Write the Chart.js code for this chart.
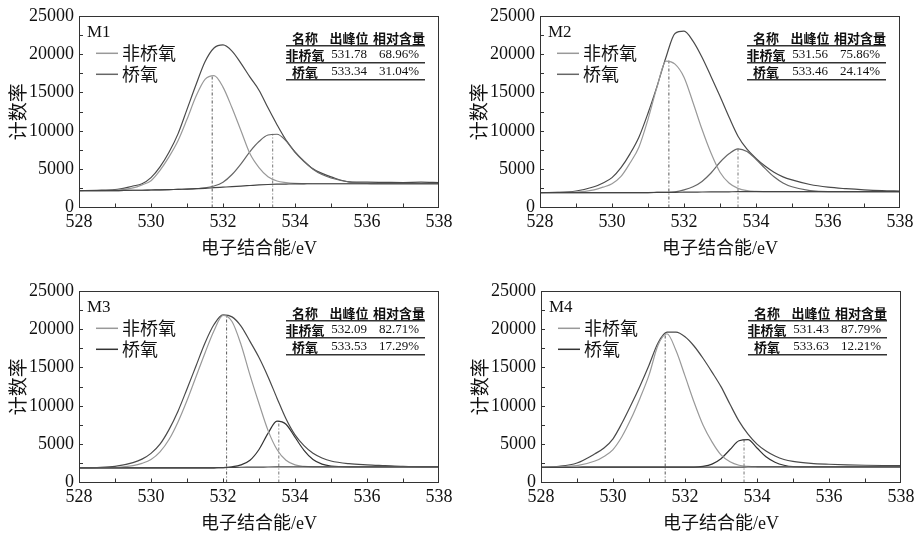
<!DOCTYPE html>
<html><head><meta charset="utf-8">
<script src="https://cdn.jsdelivr.net/npm/chart.js@4.4.1/dist/chart.umd.min.js"></script>
<style>
html,body{margin:0;padding:0;background:#fff;width:916px;height:538px;overflow:hidden;position:relative}
canvas{position:absolute}
</style></head><body>
<canvas id="c1" width="458" height="263" style="left:0;top:0"></canvas>
<canvas id="c2" width="458" height="263" style="left:461px;top:0"></canvas>
<canvas id="c3" width="458" height="263" style="left:0;top:275px"></canvas>
<canvas id="c4" width="458" height="263" style="left:462px;top:275px"></canvas>
<script>
// ---- data ----
const energy = [528, 528.5, 529, 529.5, 529.75, 530, 530.25, 530.5, 530.75, 531, 531.25, 531.5, 531.75, 532, 532.25, 532.5, 532.75, 533, 533.25, 533.5, 533.75, 534, 534.25, 534.5, 534.75, 535, 535.5, 536, 536.5, 537, 537.5, 538];

const m1Background = [2200,2200,2200,2250,2250,2280,2300,2330,2370,2400,2450,2500,2580,2650,2720,2800,2870,2940,3000,3040,3060,3080,3090,3100,3100,3100,3100,3100,3100,3100,3100,3100];
const m1NonBridging = [2200,2200,2250,2550,2950,3500,4850,6600,8700,11500,14500,16700,17200,15700,13000,10000,7000,5200,4000,3450,3250,3150,3120,3100,3100,3100,3100,3100,3100,3100,3100,3100];
const m1Bridging = [2200,2200,2200,2250,2250,2280,2300,2330,2370,2400,2460,2550,2800,3300,4300,5700,7300,8600,9450,9550,8700,7200,6000,5000,4300,3850,3350,3150,3100,3100,3100,3100];
const m1Envelope = [2200,2250,2320,2800,3100,3900,5300,7200,9600,12800,16000,19000,20800,21200,20400,18800,17000,15300,13000,10800,8800,7250,6050,5050,4450,4000,3350,3300,3280,3260,3300,3250];
const m1PeakEnergy = [531.70, 533.38];
const m1PeakHeight = [17300, 9600];
const m1PeakPos = ['531.78', '533.34'];
const m1Content = ['68.96%', '31.04%'];

const m2Background = [1950,1950,1950,1950,1950,1950,1950,1950,1950,1950,1960,1970,1980,2000,2010,2020,2030,2040,2050,2060,2060,2060,2060,2060,2060,2060,2060,2060,2060,2060,2060,2060];
const m2NonBridging = [1950,1960,2000,2300,2650,3100,4050,5800,7900,11500,15700,19100,18700,17000,13700,10200,7100,4600,3200,2500,2200,2100,2070,2060,2060,2060,2060,2060,2060,2060,2060,2060];
const m2Bridging = [1950,1950,1950,1950,1950,1950,1950,1950,1950,1950,1960,1980,2050,2300,2700,3400,4500,5900,7000,7650,7300,6300,5100,4000,3200,2700,2200,2060,2060,2060,2060,2060];
const m2Envelope = [1950,1980,2150,2700,3200,3900,5200,7000,9200,12300,15800,19600,22700,23000,21700,19600,17100,14500,11800,9300,7600,6400,5400,4600,4000,3600,3000,2650,2450,2300,2200,2150];
const m2PeakEnergy = [531.58, 533.50];
const m2PeakHeight = [19300, 7650];
const m2PeakPos = ['531.56', '533.46'];
const m2Content = ['75.86%', '24.14%'];

const m3Background = [1900,1900,1900,1900,1900,1900,1900,1900,1900,1900,1900,1900,1920,1950,1970,1990,2000,2010,2020,2030,2040,2050,2050,2050,2050,2050,2050,2050,2050,2050,2050,2050];
const m3NonBridging = [1900,1900,1950,2200,2500,3000,4000,5600,7900,10700,13800,16900,19800,21800,21000,18000,14000,10300,6800,4300,2900,2300,2100,2050,2050,2050,2050,2050,2050,2050,2050,2050];
const m3Bridging = [1900,1900,1900,1900,1900,1900,1900,1900,1900,1900,1900,1900,1920,1950,2050,2300,2900,4300,6400,8000,7600,5900,4200,3000,2400,2150,2050,2050,2050,2050,2050,2050];
const m3Envelope = [1900,1950,2100,2600,3050,3800,5000,6900,9300,12200,15200,18200,20600,21850,21600,20400,18400,16300,13800,11000,8300,6200,4800,3800,3200,2800,2450,2300,2200,2100,2050,2050];
const m3PeakEnergy = [532.10, 533.55];
const m3PeakHeight = [21900, 8050];
const m3PeakPos = ['532.09', '533.53'];
const m3Content = ['82.71%', '17.29%'];

const m4Background = [1970,1980,1990,2000,2000,2000,2000,2000,2000,2000,2000,2000,2000,2000,2000,2000,2000,2000,2000,2010,2020,2030,2040,2050,2050,2050,2050,2050,2050,2050,2050,2050];
const m4NonBridging = [2000,2050,2200,2800,3400,4300,6000,8300,11000,14000,17900,19400,17200,13900,10500,7500,5300,3600,2700,2250,2100,2050,2040,2050,2050,2050,2050,2050,2050,2050,2050,2050];
const m4Bridging = [1970,1980,1990,2000,2000,2000,2000,2000,2000,2000,2000,2000,2000,2000,2000,2100,2400,3100,4300,5450,5600,4500,3350,2650,2250,2080,2050,2050,2050,2050,2050,2050];
const m4Envelope = [1970,2100,2550,3750,4500,5700,7750,10100,12600,15300,18200,19600,19600,19000,17800,16200,14400,12500,10200,8000,6300,5000,4100,3450,3000,2750,2500,2380,2300,2250,2220,2200];
const m4PeakEnergy = [531.45, 533.64];
const m4PeakHeight = [19500, 5650];
const m4PeakPos = ['531.43', '533.63'];
const m4Content = ['87.79%', '12.21%'];

const sampleNames = ['M1', 'M2', 'M3', 'M4'];
const legendNames = ['非桥氧', '桥氧'];
const tableHeader = ['名称', '出峰位', '相对含量'];
const xTitle = '电子结合能/eV';
const yTitle = '计数率';

// ---- drawing ----
const SERIF = "'Liberation Serif', 'Times New Roman', serif";
const CJK = "'Noto Sans CJK SC', sans-serif";
const MIXED = "'Liberation Serif', 'Noto Sans CJK SC', serif";

function pts(ys) { return energy.map((x, i) => ({x: x, y: ys[i]})); }
function vline(x, h) { return [{x: x, y: 0}, {x: x, y: h}]; }

const decor = {
  id: 'decor',
  afterDraw(chart, args, o) {
    const ctx = chart.ctx, ca = chart.chartArea, xs = chart.scales.x, ys = chart.scales.y;
    ctx.save();
    ctx.strokeStyle = '#333'; ctx.lineWidth = 1;
    ctx.beginPath();
    xs.ticks.forEach(t => {
      if (t.value <= xs.min || t.value >= xs.max) return;
      const px = Math.round(xs.getPixelForValue(t.value)) + 0.5;
      ctx.moveTo(px, ca.bottom); ctx.lineTo(px, ca.bottom - 4);
    });
    ys.ticks.forEach(t => {
      if (t.value <= ys.min || t.value >= ys.max) return;
      const py = Math.round(ys.getPixelForValue(t.value)) + 0.5;
      ctx.moveTo(ca.left, py); ctx.lineTo(ca.left + 4, py);
    });
    ctx.stroke();
    ctx.strokeRect(Math.round(ca.left) + 0.5, Math.round(ca.top) + 0.5, Math.round(ca.width) - 1, Math.round(ca.height) - 1);

    ctx.fillStyle = '#111';
    ctx.textBaseline = 'middle'; ctx.textAlign = 'left';
    ctx.font = '17px ' + SERIF;
    ctx.fillText(o.label, ca.left + 8, ca.top + 17);

    ctx.font = '18px ' + CJK;
    o.legend.forEach((name, i) => {
      const y = ca.top + 37 + i * 21;
      ctx.strokeStyle = o.legendColors[i]; ctx.lineWidth = 1.5;
      ctx.beginPath(); ctx.moveTo(ca.left + 17, y + 0.5); ctx.lineTo(ca.left + 39, y + 0.5); ctx.stroke();
      ctx.fillText(name, ca.left + 43, y);
    });

    const tl = ca.left + 207, tr = ca.left + 346;
    const cols = [ca.left + 226, ca.left + 270, ca.left + 320];
    ctx.textAlign = 'center';
    ctx.font = 'bold 13px ' + CJK;
    o.header.forEach((h, j) => ctx.fillText(h, cols[j], ca.top + 22));
    o.legend.forEach((name, i) => {
      const y = ca.top + 39 + i * 17;
      ctx.font = 'bold 13px ' + CJK;
      ctx.fillText(name, cols[0], y);
      ctx.font = '13px ' + SERIF;
      ctx.fillText(o.pos[i], cols[1], y);
      ctx.fillText(o.content[i], cols[2], y);
    });
    ctx.strokeStyle = '#333'; ctx.lineWidth = 1.5;
    [30, 47, 64].forEach(dy => {
      ctx.beginPath(); ctx.moveTo(tl, ca.top + dy); ctx.lineTo(tr, ca.top + dy); ctx.stroke();
    });
    ctx.restore();
  }
};

function line(data, color, extra) {
  return Object.assign({data: data, borderColor: color, borderWidth: 1.2, pointRadius: 0, fill: false, cubicInterpolationMode: 'monotone'}, extra || {});
}

function makePanel(id, idx, bg, nb, br, env, pe, ph, pos, content, brColor) {
  new Chart(document.getElementById(id), {
    type: 'line',
    data: {
      datasets: [
        line(pts(bg), '#444'),
        line(pts(nb), '#999'),
        line(pts(br), brColor),
        line(pts(env), '#4a4a4a'),
        line(vline(pe[0], ph[0]), '#555', {borderWidth: 1, borderDash: [3, 2, 1, 2], cubicInterpolationMode: 'default', tension: 0}),
        line(vline(pe[1], ph[1]), '#777', {borderWidth: 1, borderDash: [3, 2, 1, 2], cubicInterpolationMode: 'default', tension: 0})
      ]
    },
    options: {
      responsive: false, animation: false, devicePixelRatio: 1,
      layout: {padding: {top: 10, right: 19, left: 0, bottom: 0}},
      plugins: {
        legend: {display: false}, tooltip: {enabled: false},
        decor: {label: sampleNames[idx], legend: legendNames, legendColors: ['#999', brColor], header: tableHeader, pos: pos, content: content}
      },
      scales: {
        x: {
          type: 'linear', min: 528, max: 538,
          grid: {display: false, drawTicks: false}, border: {display: false},
          ticks: {stepSize: 1, autoSkip: false, maxRotation: 0, padding: 4, color: '#111',
            font: {family: SERIF, size: 18},
            callback: v => (v % 2 === 0 ? String(v) : '')},
          title: {display: true, text: xTitle, color: '#111', font: {family: MIXED, size: 18}, padding: {top: 0, bottom: 3}},
          afterFit: s => { s.height = 55.5; }
        },
        y: {
          min: 0, max: 25000,
          grid: {display: false, drawTicks: false}, border: {display: false},
          ticks: {stepSize: 2500, autoSkip: false, padding: 5, color: '#111',
            font: {family: SERIF, size: 18},
            callback: v => (v % 5000 === 0 ? String(v) : '')},
          title: {display: true, text: yTitle, color: '#111', font: {family: CJK, size: 19}, padding: {top: 6, bottom: 0}},
          afterFit: s => { s.width = 79; }
        }
      }
    },
    plugins: [decor]
  });
}

makePanel('c1', 0, m1Background, m1NonBridging, m1Bridging, m1Envelope, m1PeakEnergy, m1PeakHeight, m1PeakPos, m1Content, '#666');
makePanel('c2', 1, m2Background, m2NonBridging, m2Bridging, m2Envelope, m2PeakEnergy, m2PeakHeight, m2PeakPos, m2Content, '#666');
makePanel('c3', 2, m3Background, m3NonBridging, m3Bridging, m3Envelope, m3PeakEnergy, m3PeakHeight, m3PeakPos, m3Content, '#333');
makePanel('c4', 3, m4Background, m4NonBridging, m4Bridging, m4Envelope, m4PeakEnergy, m4PeakHeight, m4PeakPos, m4Content, '#333');
</script>
</body></html>
